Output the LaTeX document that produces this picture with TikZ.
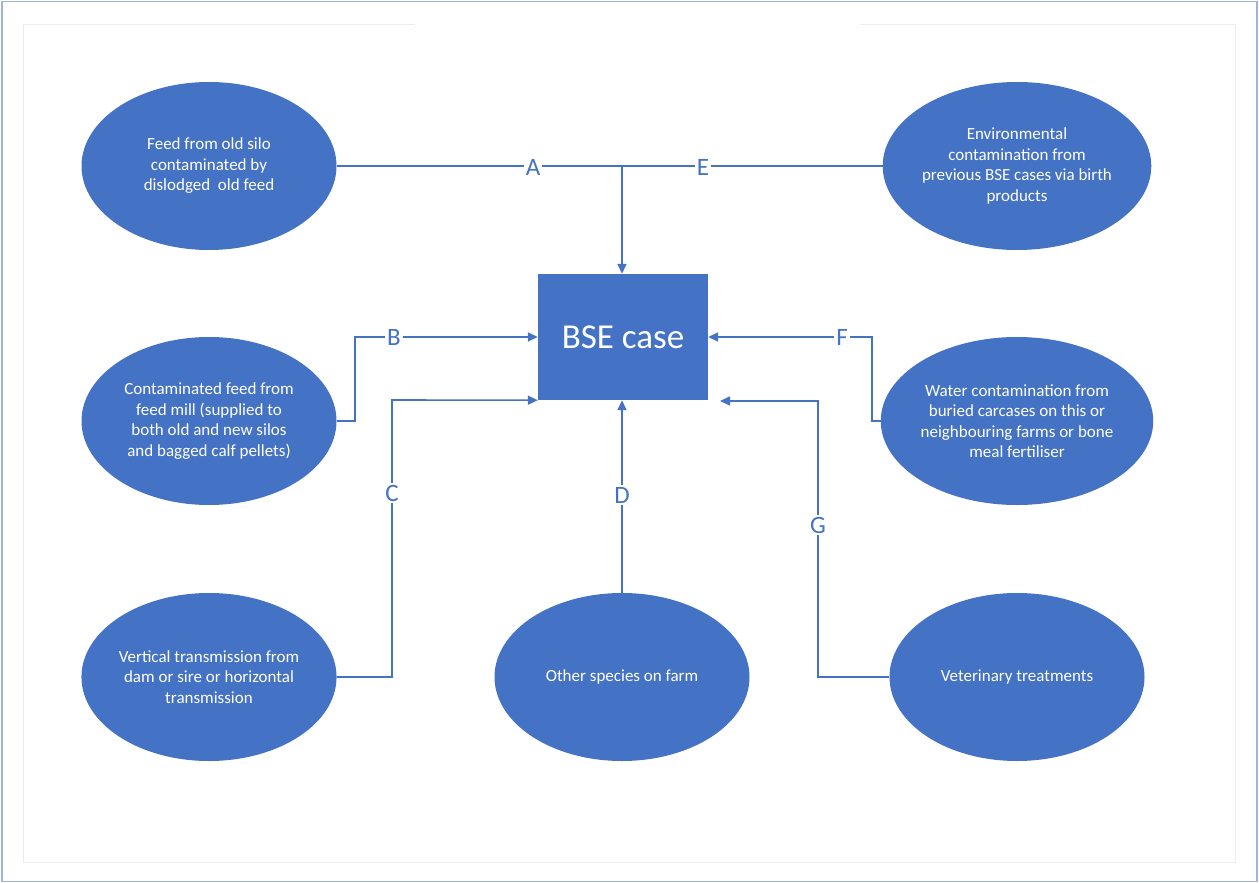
\documentclass[tikz,border=0pt]{standalone}
\usepackage{fontspec}
\setmainfont{Carlito}
\usetikzlibrary{arrows.meta,shapes.geometric}
\definecolor{offblue}{HTML}{4472C4}
\definecolor{frameblue}{HTML}{9DB4E0}
\begin{document}
\begin{tikzpicture}[x=1pt,y=-1pt,
  oval/.style={ellipse,fill=offblue,draw=none,minimum width=255pt,minimum height=168pt,inner sep=0pt,
    text=white,align=center,font=\fontsize{17}{20.5}\selectfont},
  casebox/.style={rectangle,fill=offblue,draw=none,minimum width=170pt,minimum height=126pt,inner sep=0pt,
    text=white,font=\fontsize{35}{40}\selectfont},
  conn/.style={draw=offblue,line width=1.6pt},
  arr/.style={conn,-{Triangle[length=10pt,width=9pt]}},
  lbl/.style={fill=white,text=offblue,inner sep=2pt,font=\fontsize{25}{28}\selectfont}]
\useasboundingbox (0,0) rectangle (1259,883);
% frames
\draw[frameblue,line width=1.5pt] (2,1.5) rectangle (1257,881.5);
\draw[black!7,line width=1pt] (23,25) -- (23,862) -- (1235,862) -- (1235,25) -- (860,25);
\draw[black!7,line width=1pt] (23,25) -- (415,25);
% nodes
\node[oval] (tl) at (209,166) {Feed from old silo\\contaminated by\\dislodged\ \ old feed};
\node[oval] (tr) at (1017,166) {Environmental\\contamination from\\previous BSE cases via birth\\products};
\node[oval] (ml) at (209,421) {Contaminated feed from\\feed mill (supplied to\\both old and new silos\\and bagged calf pellets)};
\node[oval] (mr) at (1017,421) {Water contamination from\\buried carcases on this or\\neighbouring farms or bone\\meal fertiliser};
\node[oval] (bl) at (209,677) {Vertical transmission from\\dam or sire or horizontal\\transmission};
\node[oval] (bm) at (622,677) {Other species on farm};
\node[oval] (br) at (1017,677) {Veterinary treatments};
\node[casebox] (bse) at (623,337) {BSE case};
\coordinate (j) at (622,166);
\coordinate (gend) at (720,401);
% connectors
\draw[conn] (tl.east) -- (j);
\draw[conn] (tr.west) -- (j);
\draw[arr] (j) -- (j |- bse.north);
\draw[arr] (ml.east) -- (355,421) -- (355,337) -- (bse.west);
\draw[arr] (bl.east) -- (392,677) -- (392,400) -- (bse.south west);
\draw[arr] (bm.north) -- (bm.north |- bse.south);
\draw[arr] (mr.west) -- (872,421) -- (872,337) -- (bse.east);
\draw[arr] (br.west) -- (818,677) -- (818,401) -- (gend);
% labels
\node[lbl] (la) at (533,167) {A};
\node[lbl] (le) at (703,167) {E};
\node[lbl] (lb) at (394,337) {B};
\node[lbl] (lc) at (392,493) {C};
\node[lbl] (ld) at (622,495) {D};
\node[lbl] (lf) at (842,337) {F};
\node[lbl] (lg) at (818,525) {G};
\end{tikzpicture}
\end{document}
